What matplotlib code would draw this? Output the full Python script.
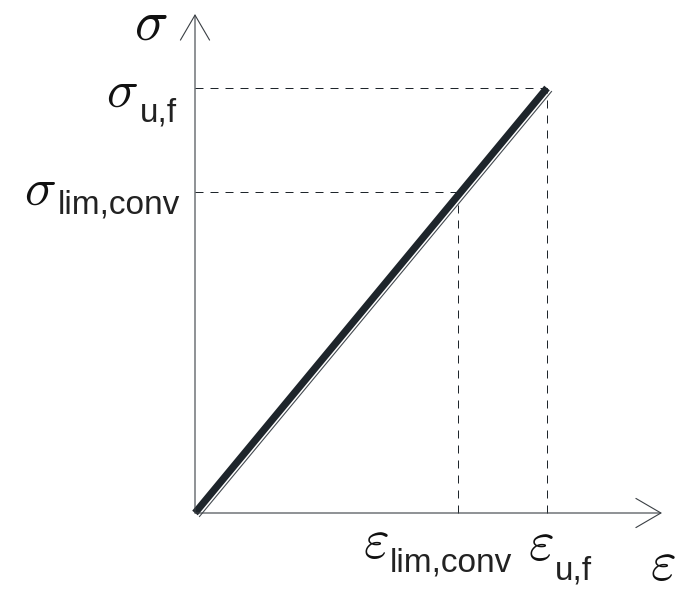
import numpy as np
import matplotlib.pyplot as plt
from matplotlib.transforms import offset_copy

plt.rcParams['mathtext.fontset'] = 'cm'

# strain / stress points (normalised to the ultimate values)
eps = [0.0, 0.747, 1.0]
sig = [0.0, 0.755, 1.0]
subs = ['lim,conv', 'u,f']

fig = plt.figure(figsize=(6.93, 5.92), dpi=100)
ax = fig.add_axes([0, 0, 1, 1])
ax.set_xlim(-195 / 352, 498 / 352)
ax.set_ylim(-79 / 425, 513 / 425)
ax.axis('off')

dark = '#1e252b'
axis_col = '#3a3f44'
sub = dict(family='Liberation Sans', fontsize=24, color='#222222')

x_tip = 467 / 352
y_tip = 499 / 425

# axes with open arrow heads
arrow = dict(arrowstyle='->,head_length=1.8,head_width=1.05', color=axis_col,
             lw=0.8, mutation_scale=10, shrinkA=0, shrinkB=0)
ax.annotate('', xy=(x_tip, 0), xytext=(0, 0), arrowprops=arrow)
ax.annotate('', xy=(0, y_tip), xytext=(0, 0), arrowprops=arrow)

# dashed guide lines
for e, s in zip(eps[1:], sig[1:]):
    ax.plot([0, e], [s, s], ls=(0, (8, 7)), color=dark, lw=0.72)
    ax.plot([e, e], [0, s], ls=(0, (8, 7)), color=dark, lw=0.72)

# stress-strain line: thin shadow line plus thick line
shadow = offset_copy(ax.transData, fig=fig, x=4.5, y=-3.5, units='dots')
ax.plot([eps[0], eps[-1]], [sig[0], sig[-1]], color='#444a50', lw=0.8,
        transform=shadow)
ax.plot([eps[0], eps[-1]], [sig[0], sig[-1]], color=dark, lw=5.2,
        solid_capstyle='butt')


def label(xy, letter, size, off_l, off_s=None, text=None):
    ax.annotate(letter, xy=xy, xytext=off_l, textcoords='offset pixels',
                fontsize=size, ha='left', va='baseline', color='#111111')
    if text:
        ax.annotate(text, xy=xy, xytext=off_s, textcoords='offset pixels',
                    ha='left', va='baseline', **sub)


# stress labels
label((0, y_tip), r'$\sigma$', 40, (-61, -26))
label((0, sig[2]), r'$\sigma$', 38, (-89, -19), (-55, -34), subs[1])
label((0, sig[1]), r'$\sigma$', 38, (-171, -13), (-137, -21), subs[0])

# strain labels
label((eps[1], 0), r'$\varepsilon$', 40, (-95, -45), (-68, -59), subs[0])
label((eps[2], 0), r'$\varepsilon$', 40, (-19, -47), (8, -66), subs[1])
label((x_tip, 0), r'$\varepsilon$', 40, (-12, -67))

fig.savefig('out.png', dpi=100)
